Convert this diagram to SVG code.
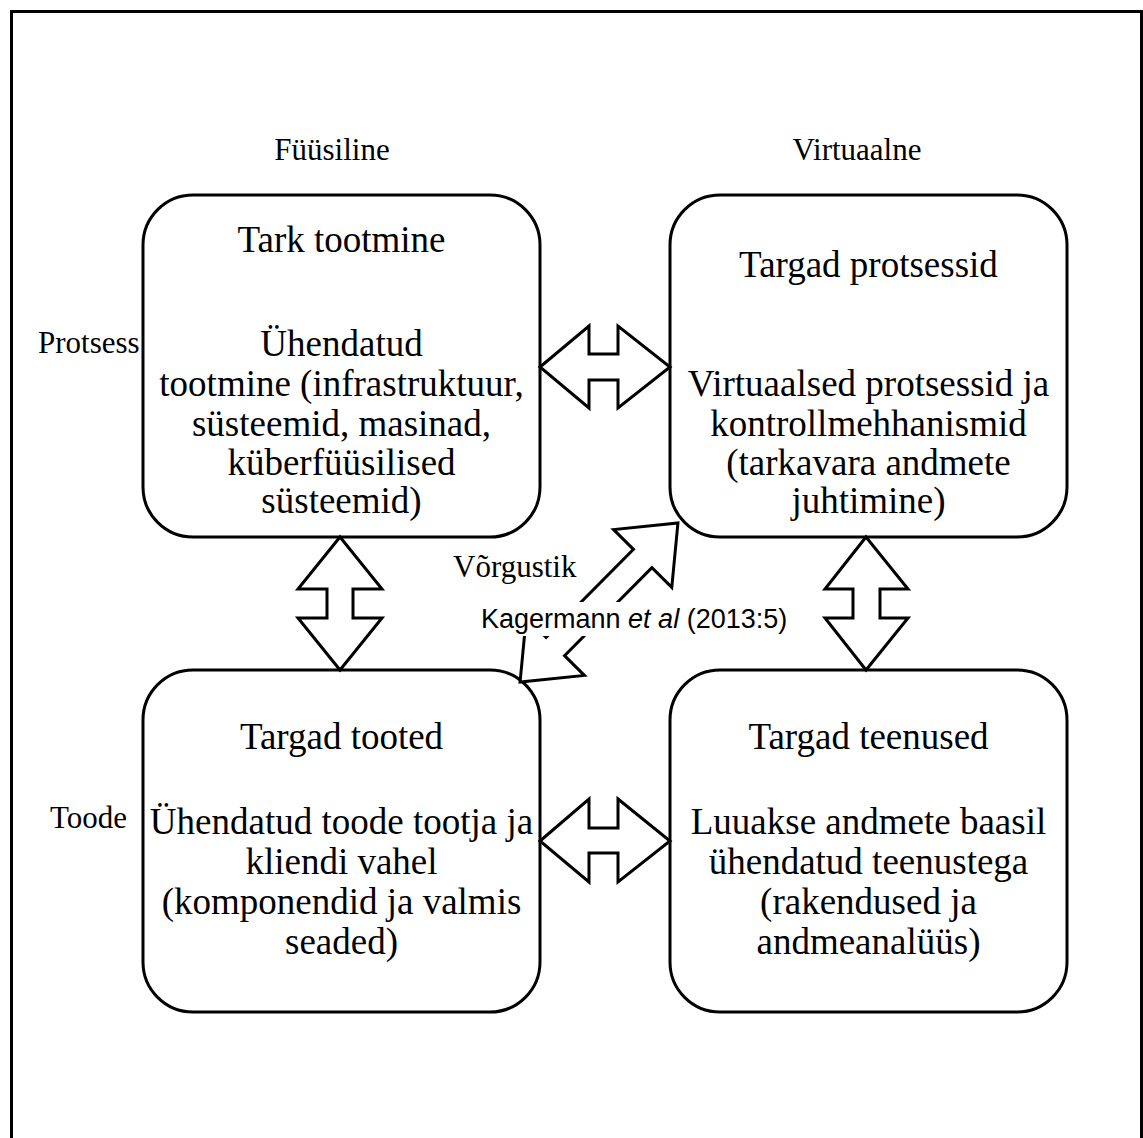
<svg xmlns="http://www.w3.org/2000/svg" width="1143" height="1138" viewBox="0 0 1143 1138">
<style>
.box{fill:#fff;stroke:#000;stroke-width:3}
.arr{fill:#fff;stroke:#000;stroke-width:3;stroke-linejoin:miter}
.t{font-family:"Liberation Serif","Times New Roman",serif;font-size:37px;fill:#000;text-anchor:middle}
.l{font-family:"Liberation Serif","Times New Roman",serif;font-size:31px;fill:#000}
.s{font-family:"Liberation Sans",Arial,sans-serif;font-size:27px;fill:#000}
</style>
<rect x="11.5" y="11.5" width="1130" height="1140" fill="#fff" stroke="#000" stroke-width="3"/>
<g id="labels">
<text class="l" x="332" y="160" text-anchor="middle">Füüsiline</text>
<text class="l" x="857" y="160" text-anchor="middle">Virtuaalne</text>
<text class="l" x="38" y="353">Protsess</text>
<text class="l" x="50" y="828">Toode</text>
<text class="l" x="453" y="577">Võrgustik</text>
</g>
<g id="node-tark-tootmine">
<rect class="box" x="143" y="195" width="397" height="342" rx="50" ry="50"/>
<text class="t" x="341.5" y="252">Tark tootmine</text>
<text class="t" x="341.5" y="356">Ühendatud</text>
<text class="t" x="341.5" y="396">tootmine (infrastruktuur,</text>
<text class="t" x="341.5" y="436">süsteemid, masinad,</text>
<text class="t" x="341.5" y="475">küberfüüsilised</text>
<text class="t" x="341.5" y="513">süsteemid)</text>
</g>
<g id="node-targad-protsessid">
<rect class="box" x="670" y="195" width="397" height="342" rx="50" ry="50"/>
<text class="t" x="868.5" y="277">Targad protsessid</text>
<text class="t" x="868.5" y="396">Virtuaalsed protsessid ja</text>
<text class="t" x="868.5" y="436">kontrollmehhanismid</text>
<text class="t" x="868.5" y="475">(tarkavara andmete</text>
<text class="t" x="868.5" y="513">juhtimine)</text>
</g>
<g id="node-targad-tooted">
<rect class="box" x="143" y="670" width="397" height="342" rx="50" ry="50"/>
<text class="t" x="341.5" y="749">Targad tooted</text>
<text class="t" x="341.5" y="834">Ühendatud toode tootja ja</text>
<text class="t" x="341.5" y="874">kliendi vahel</text>
<text class="t" x="341.5" y="914">(komponendid ja valmis</text>
<text class="t" x="341.5" y="954">seaded)</text>
</g>
<g id="node-targad-teenused">
<rect class="box" x="670" y="670" width="397" height="342" rx="50" ry="50"/>
<text class="t" x="868.5" y="749">Targad teenused</text>
<text class="t" x="868.5" y="834">Luuakse andmete baasil</text>
<text class="t" x="868.5" y="874">ühendatud teenustega</text>
<text class="t" x="868.5" y="914">(rakendused ja</text>
<text class="t" x="868.5" y="954">andmeanalüüs)</text>
</g>
<g id="connectors">
<polygon class="arr" points="540,367 589,326 589,354 618,354 618,326 670,367 618,408 618,380 589,380 589,408"/>
<polygon class="arr" points="540,841 589,799 589,828 618,828 618,799 670,841 618,882 618,853 589,853 589,882"/>
<polygon class="arr" points="340,537 382,589 353,589 353,618 382,618 340,670 298,618 327,618 327,589 298,589"/>
<polygon class="arr" points="866,537 908,589 880,589 880,618 908,618 866,670 825,618 853,618 853,589 825,589"/>
<polygon class="arr" transform="translate(599 602.5) rotate(-45.2)" points="112,0 62,41 62,13 -62,13 -62,41 -112,0 -62,-41 -62,-13 62,-13 62,-41"/>
<rect x="478" y="602" width="310" height="34" fill="#fff"/>
<text class="s" x="481" y="628">Kagermann <tspan font-style="italic">et al</tspan> (2013:5)</text>
</g>
</svg>
